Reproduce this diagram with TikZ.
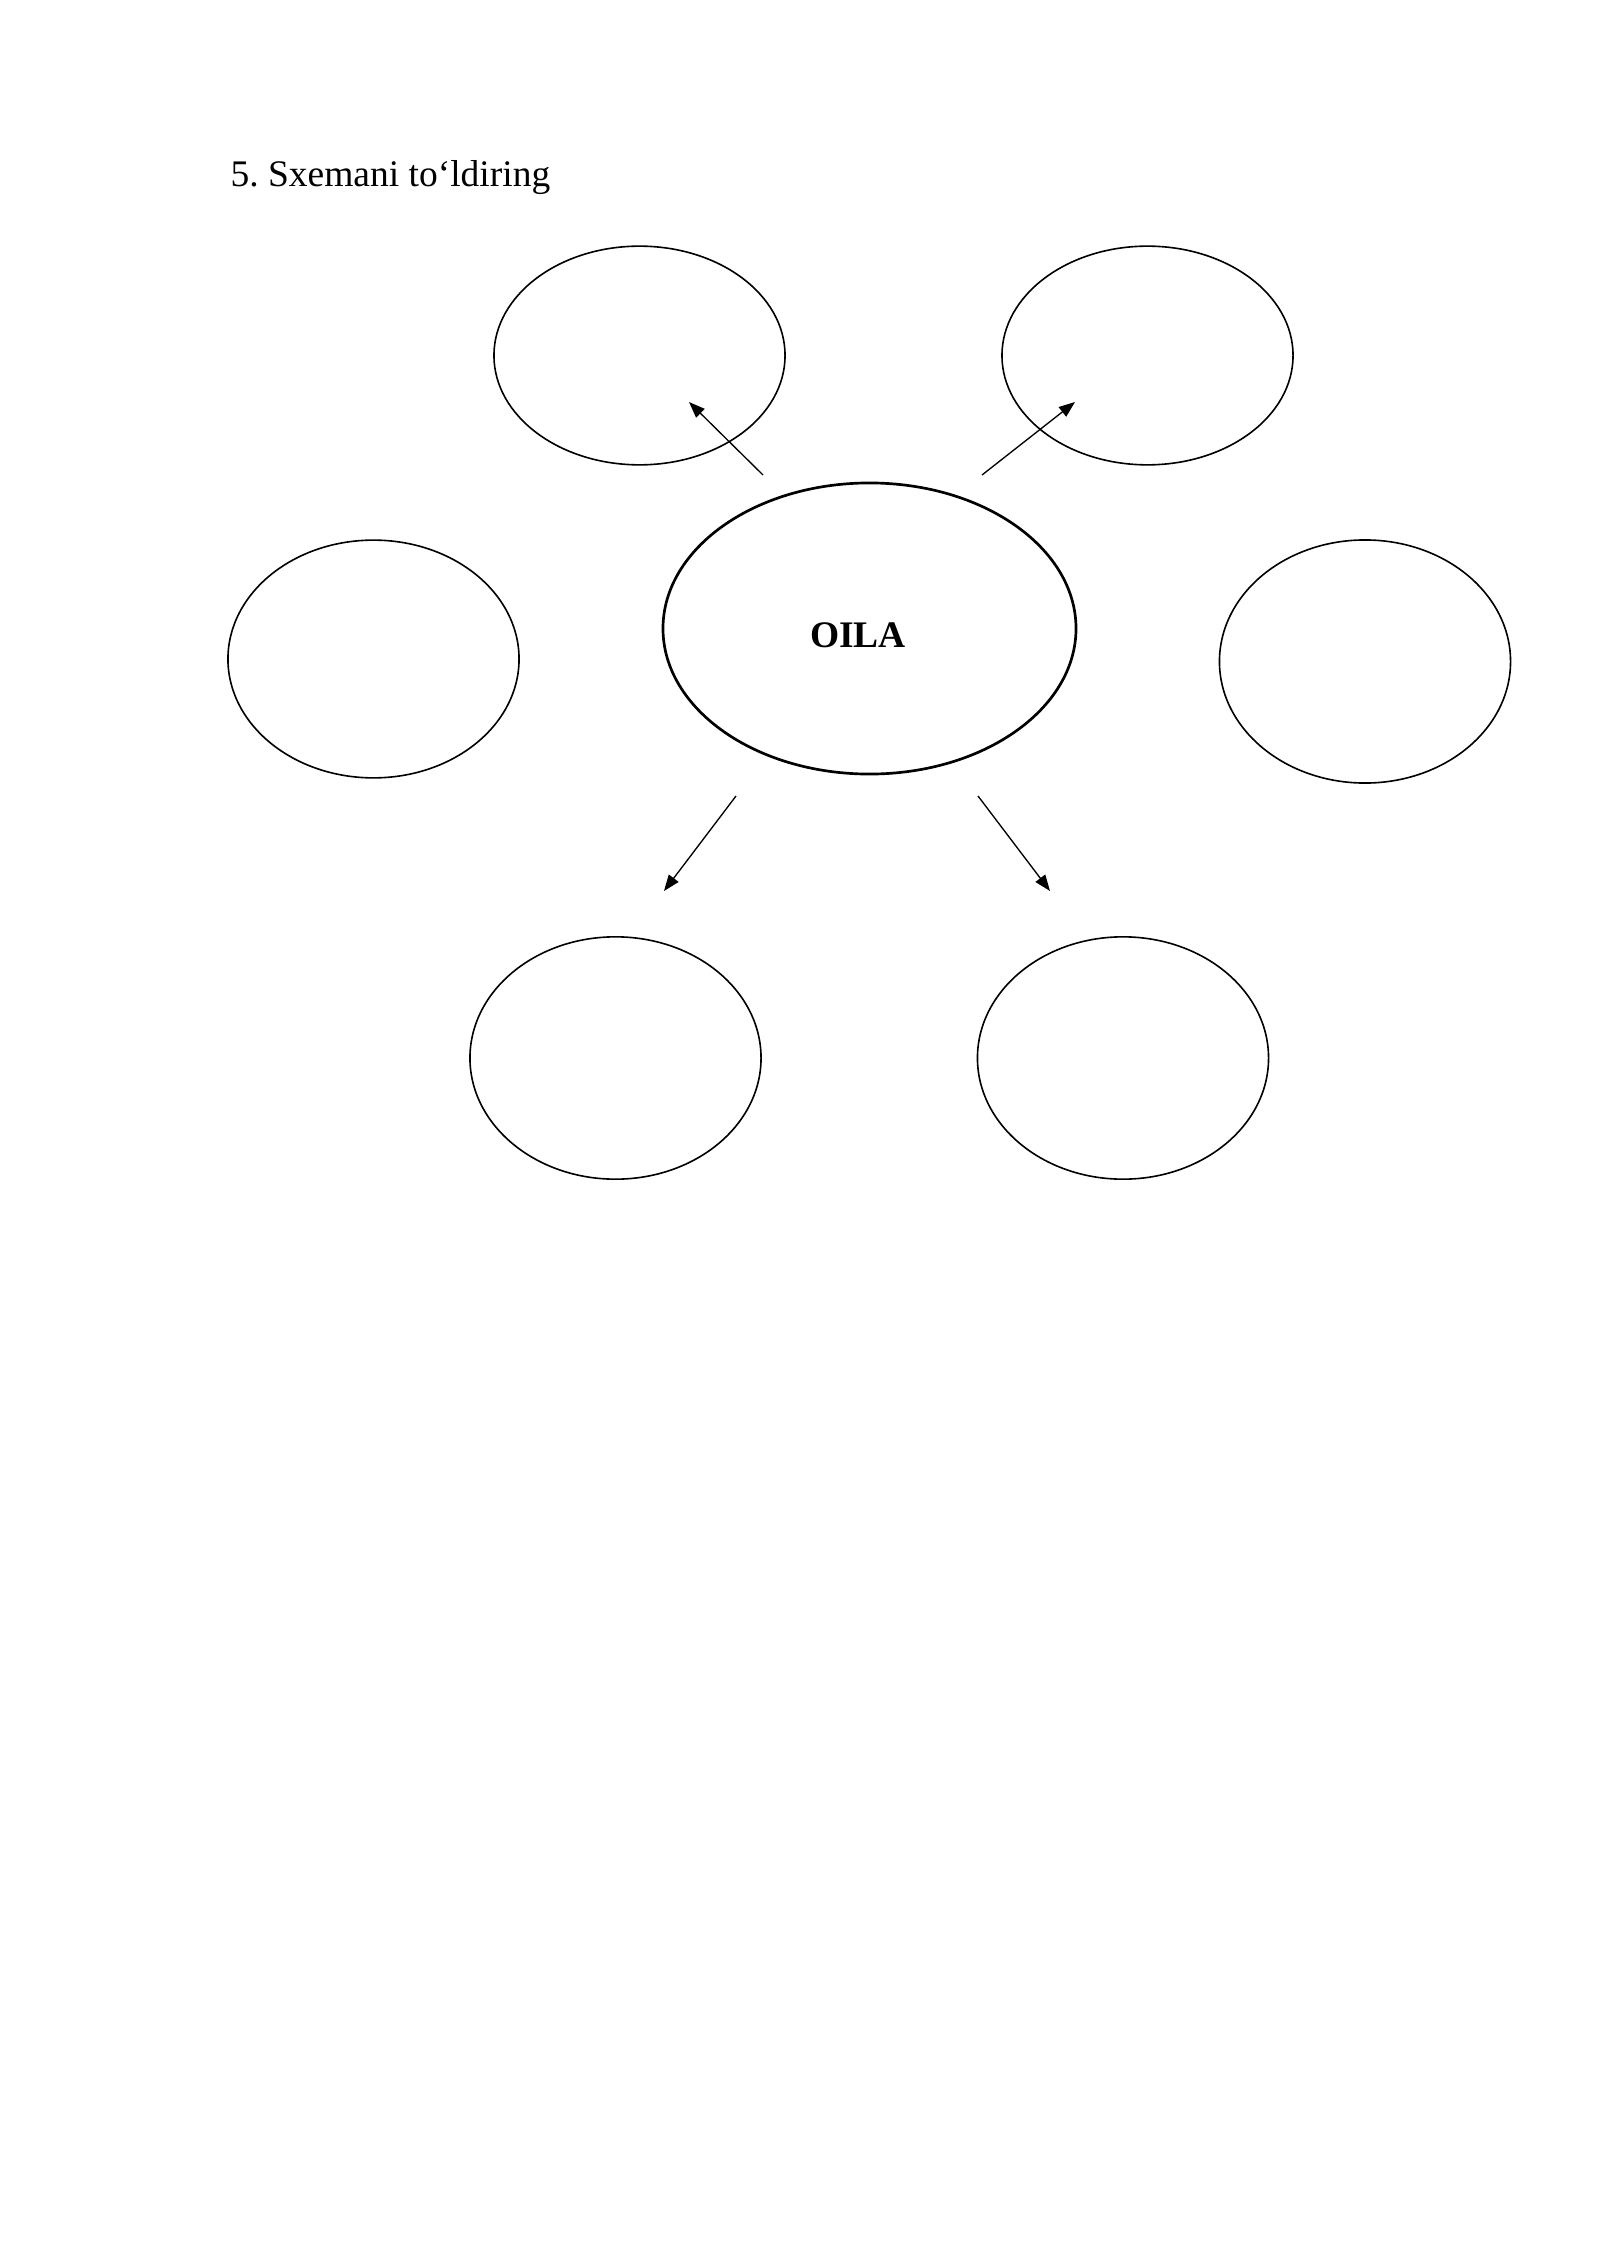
\documentclass[tikz,border=0pt]{standalone}
\usepackage{fontspec}
\setmainfont{Liberation Serif}
\usetikzlibrary{shapes.geometric,arrows.meta}

\begin{document}
\begin{tikzpicture}[x=0.013125cm,y=-0.013125cm,
    box/.style={ellipse,draw,line width=0.6pt,inner sep=0pt,
        minimum width=3.82cm},
    mainbox/.style={ellipse,draw,line width=1pt,inner sep=0pt,
        minimum width=5.42cm,minimum height=3.82cm,
        font=\fontsize{14}{17}\selectfont\bfseries,text height=14pt},
    arr/.style={-{Triangle[length=6pt,width=4.5pt]},line width=0.5pt}]

    \useasboundingbox (0,0) rectangle (1600,2262);

    % the title
    \node[anchor=base west,inner sep=0pt,font=\fontsize{14}{17}\selectfont]
    (title) at (230,187) {5.\ Sxemani to‘ldiring};

    % the ellipses
    \node[mainbox] (oila) at (869.5,628.5) {OILA\hspace*{0.3cm}};
    \node[box,minimum height=2.87cm] (tl) at (639.5,355.5) {};
    \node[box,minimum height=2.87cm] (tr) at (1147.5,355.5) {};
    \node[box,minimum height=3.12cm] (l) at (373.5,659) {};
    \node[box,minimum height=3.19cm] (r) at (1365,661.5) {};
    \node[box,minimum height=3.18cm] (bl) at (615.5,1058) {};
    \node[box,minimum height=3.18cm] (br) at (1123,1058) {};

    % the arrows
    \coordinate (tl-from) at (763,475);
    \coordinate (tl-to) at (689,402);
    \coordinate (tr-from) at (982,475);
    \coordinate (tr-to) at (1075,402);
    \coordinate (bl-from) at (736,796);
    \coordinate (bl-to) at (664,891);
    \coordinate (br-from) at (978,796);
    \coordinate (br-to) at (1050,891);

    \draw[arr] (tl-from) -- (tl-to);
    \draw[arr] (tr-from) -- (tr-to);
    \draw[arr] (bl-from) -- (bl-to);
    \draw[arr] (br-from) -- (br-to);
\end{tikzpicture}
\end{document}
